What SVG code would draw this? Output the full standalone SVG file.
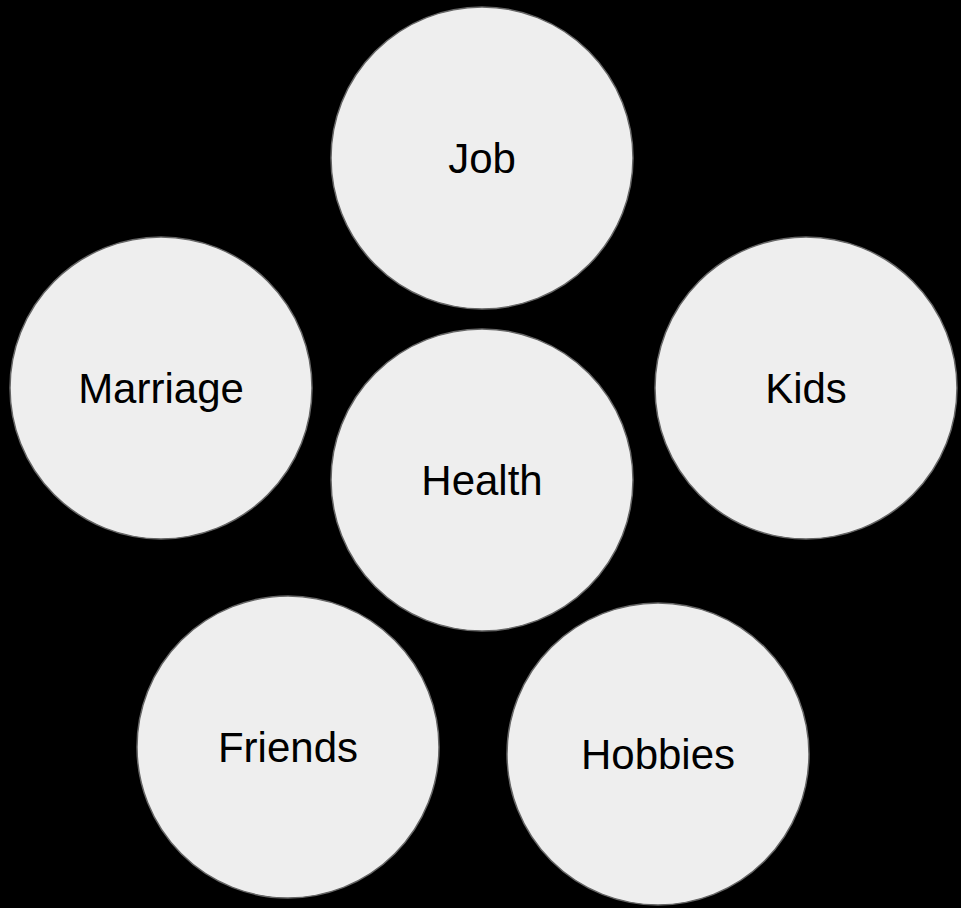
<svg xmlns="http://www.w3.org/2000/svg" width="961" height="908" viewBox="0 0 961 908">
<style>
.n circle{fill:#eeeeee;stroke:#666666;stroke-width:1.5}
.n text{font-family:"Liberation Sans",Arial,sans-serif;font-size:42px;fill:#000000;text-anchor:middle}
</style>
<rect x="0" y="0" width="961" height="908" fill="#000000"/>
<g id="connectors"></g>
<g id="job" class="n"><circle cx="482" cy="158" r="151"/><text x="482" y="173">Job</text></g>
<g id="marriage" class="n"><circle cx="161" cy="388" r="151"/><text x="161" y="403">Marriage</text></g>
<g id="kids" class="n"><circle cx="806" cy="388" r="151"/><text x="806" y="403">Kids</text></g>
<g id="health" class="n"><circle cx="482" cy="480" r="151"/><text x="482" y="495">Health</text></g>
<g id="friends" class="n"><circle cx="288" cy="747" r="151"/><text x="288" y="762">Friends</text></g>
<g id="hobbies" class="n"><circle cx="658" cy="754" r="151"/><text x="658" y="769">Hobbies</text></g>
</svg>
